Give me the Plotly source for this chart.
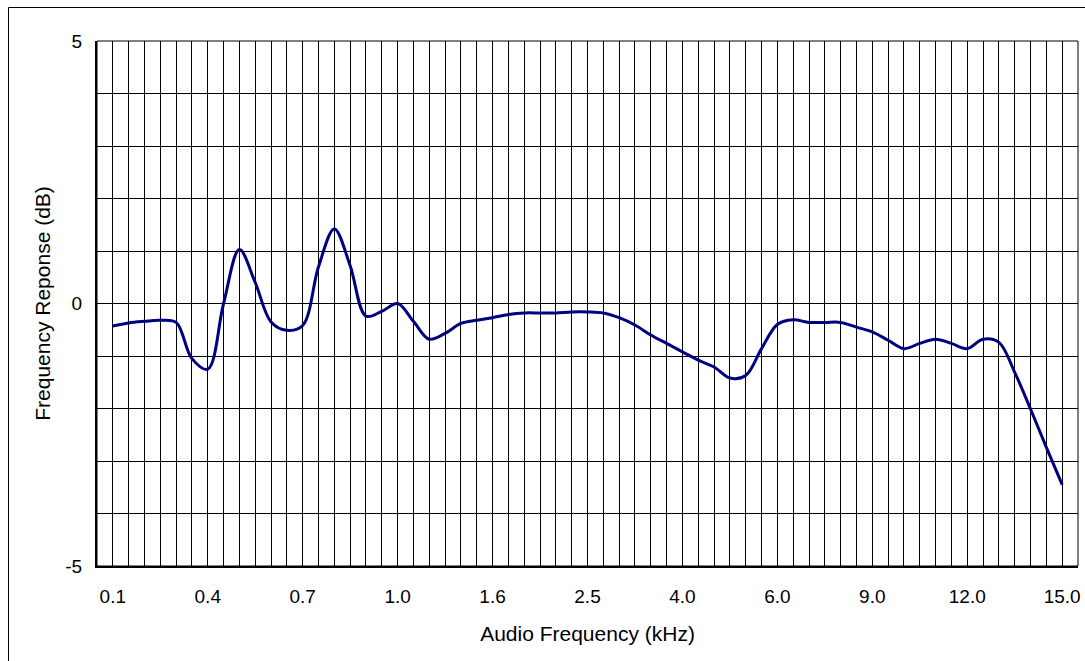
import plotly.graph_objects as go

# frequency points (kHz), one per category column; only every 6th is labelled
FREQ_LABELS = ["0.1", "0.4", "0.7", "1.0", "1.6", "2.5", "4.0", "6.0", "9.0", "12.0", "15.0"]
STEP = 6

response_db = [
    -0.43, -0.37, -0.34, -0.32, -0.36, -1.05, -1.25, 0.00, 1.03, 0.40,
    -0.35, -0.51, -0.42, 0.70, 1.42, 0.72, -0.24, -0.15, 0.00, -0.34,
    -0.68, -0.57, -0.38, -0.32, -0.27, -0.21, -0.18, -0.18, -0.18, -0.16,
    -0.16, -0.18, -0.27, -0.41, -0.60, -0.76, -0.92, -1.08, -1.21, -1.42,
    -1.37, -0.86, -0.40, -0.31, -0.36, -0.36, -0.36, -0.45, -0.54, -0.70,
    -0.86, -0.76, -0.68, -0.76, -0.86, -0.68, -0.74, -1.31, -2.01, -2.74,
    -3.45,
]

y_ticks = [-5, 0, 5]

FONT = "Liberation Sans, Arial, sans-serif"
LINE_COLOR = "#000080"

idx = list(range(len(response_db)))
x_text = [FREQ_LABELS[i // STEP] if i % STEP == 0 else "" for i in idx]

fig = go.Figure()

fig.add_trace(
    go.Scatter(
        x=idx,
        y=response_db,
        mode="lines",
        line=dict(color=LINE_COLOR, width=3, shape="spline", smoothing=1.0),
        showlegend=False,
    )
)

fig.update_layout(
    width=1085,
    height=661,
    margin=dict(l=97, r=7, t=41, b=95),
    plot_bgcolor="white",
    paper_bgcolor="white",
    font=dict(family=FONT, size=19, color="black"),
    xaxis=dict(
        range=[-1, len(idx)],
        tickmode="array",
        tickvals=idx,
        ticktext=x_text,
        showgrid=True,
        gridcolor="black",
        gridwidth=1,
        showline=True,
        linecolor="black",
        linewidth=2,
        ticks="",
        ticklabelstandoff=12,
        ticklabeloverflow="allow",
        zeroline=False,
        automargin=False,
        title=dict(text="Audio Frequency (kHz)", font=dict(size=21), standoff=21),
    ),
    yaxis=dict(
        range=[-5, 5],
        tickmode="array",
        tickvals=list(range(-5, 6)),
        ticktext=[str(v) if v in y_ticks else "" for v in range(-5, 6)],
        showgrid=True,
        gridcolor="black",
        gridwidth=1,
        zeroline=True,
        zerolinecolor="black",
        zerolinewidth=1,
        showline=True,
        linecolor="black",
        linewidth=2,
        ticks="",
        ticklabelstandoff=9,
        automargin=False,
        title=dict(text="Frequency Reponse (dB)", font=dict(size=21), standoff=9),
    ),
    shapes=[
        # plot area frame
        dict(type="rect", xref="paper", yref="paper", x0=0, x1=1, y0=0, y1=1,
             line=dict(color="black", width=1)),
        # outer chart border (top and left edges visible)
        dict(type="line", xref="paper", yref="paper", x0=-0.0902, x1=1.2, y0=1.0638, y1=1.0638,
             line=dict(color="black", width=1)),
        dict(type="line", xref="paper", yref="paper", x0=-0.0902, x1=-0.0902, y0=-0.3, y1=1.0638,
             line=dict(color="black", width=1)),
    ],
)

# drop the default page margin so the figure fills the window exactly
fig.write_html(
    "out.html",
    config={"displayModeBar": False},
    post_script="document.body.style.margin='0';document.body.style.overflow='hidden';",
)
